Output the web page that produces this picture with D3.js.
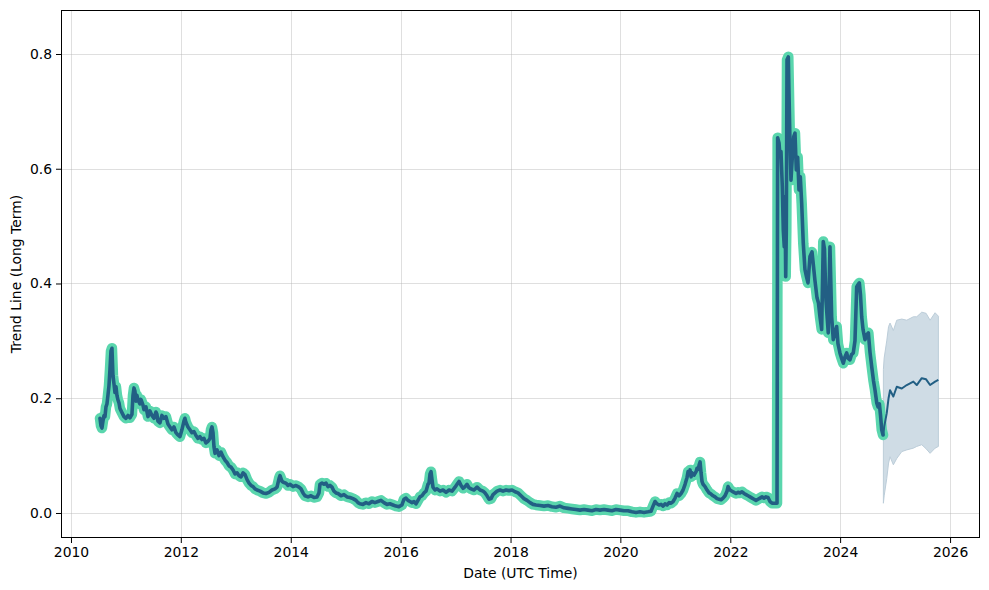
<!DOCTYPE html>
<html>
<head>
<meta charset="utf-8">
<script src="https://cdn.jsdelivr.net/npm/d3@7"></script>
<style>
  html, body { margin: 0; padding: 0; background: #ffffff; }
  svg { display: block; font-family: "DejaVu Sans", sans-serif; }
</style>
</head>
<body>
<svg id="chart" width="989" height="590"></svg>
<script>
// ---------- data (decimal years, values) ----------
const histYears = [
2010.528,2010.546,2010.564,2010.582,2010.601,2010.619,2010.637,2010.655,2010.673,2010.692,
2010.710,2010.728,2010.746,2010.764,2010.783,2010.801,2010.819,2010.837,2010.855,2010.874,
2010.892,2010.928,2010.965,2011.001,2011.038,2011.074,2011.110,2011.129,2011.147,2011.165,
2011.183,2011.201,2011.220,2011.256,2011.274,2011.311,2011.329,2011.365,2011.402,2011.438,
2011.474,2011.511,2011.547,2011.565,2011.584,2011.620,2011.656,2011.693,2011.729,2011.766,
2011.802,2011.838,2011.875,2011.911,2011.948,2011.984,2012.020,2012.057,2012.075,2012.093,
2012.130,2012.166,2012.202,2012.239,2012.275,2012.312,2012.348,2012.384,2012.421,2012.457,
2012.494,2012.530,2012.548,2012.566,2012.585,2012.603,2012.621,2012.658,2012.694,2012.730,
2012.767,2012.803,2012.840,2012.876,2012.912,2012.949,2012.985,2013.022,2013.058,2013.094,
2013.131,2013.167,2013.204,2013.240,2013.276,2013.313,2013.349,2013.386,2013.440,2013.495,
2013.549,2013.604,2013.659,2013.713,2013.750,2013.786,2013.804,2013.822,2013.841,2013.877,
2013.913,2013.950,2013.986,2014.041,2014.095,2014.150,2014.186,2014.223,2014.259,2014.314,
2014.368,2014.423,2014.478,2014.514,2014.532,2014.569,2014.605,2014.642,2014.678,2014.714,
2014.751,2014.787,2014.824,2014.860,2014.915,2014.969,2015.024,2015.078,2015.133,2015.188,
2015.224,2015.260,2015.315,2015.370,2015.424,2015.479,2015.533,2015.588,2015.643,2015.697,
2015.752,2015.806,2015.861,2015.916,2015.970,2016.025,2016.061,2016.098,2016.134,2016.170,
2016.207,2016.243,2016.280,2016.316,2016.352,2016.389,2016.425,2016.462,2016.498,2016.516,
2016.535,2016.553,2016.571,2016.589,2016.626,2016.662,2016.717,2016.771,2016.826,2016.880,
2016.935,2016.990,2017.026,2017.062,2017.099,2017.135,2017.172,2017.208,2017.244,2017.281,
2017.335,2017.390,2017.445,2017.499,2017.536,2017.572,2017.608,2017.645,2017.681,2017.718,
2017.754,2017.809,2017.863,2017.918,2017.972,2018.027,2018.082,2018.136,2018.191,2018.245,
2018.300,2018.355,2018.409,2018.464,2018.537,2018.610,2018.682,2018.755,2018.828,2018.901,
2018.974,2019.046,2019.119,2019.192,2019.265,2019.338,2019.410,2019.483,2019.556,2019.629,
2019.702,2019.774,2019.847,2019.920,2019.993,2020.066,2020.139,2020.211,2020.284,2020.357,
2020.430,2020.503,2020.557,2020.594,2020.630,2020.666,2020.703,2020.739,2020.776,2020.812,
2020.848,2020.885,2020.921,2020.958,2020.994,2021.030,2021.067,2021.103,2021.140,2021.176,
2021.212,2021.231,2021.249,2021.267,2021.285,2021.303,2021.340,2021.376,2021.394,2021.413,
2021.431,2021.449,2021.467,2021.485,2021.504,2021.540,2021.576,2021.613,2021.649,2021.686,
2021.722,2021.758,2021.795,2021.831,2021.868,2021.904,2021.940,2021.959,2021.995,2022.031,
2022.068,2022.104,2022.141,2022.177,2022.213,2022.250,2022.286,2022.323,2022.359,2022.396,
2022.432,2022.468,2022.505,2022.541,2022.578,2022.614,2022.650,2022.687,2022.723,2022.760,
2022.796,2022.832,2022.851,2022.862,2022.887,2022.905,2022.923,2022.947,2022.965,2022.983,
2022.996,2023.009,2023.020,2023.033,2023.056,2023.082,2023.105,2023.129,2023.155,2023.178,
2023.202,2023.227,2023.251,2023.275,2023.300,2023.329,2023.360,2023.387,2023.415,2023.451,
2023.488,2023.515,2023.542,2023.579,2023.606,2023.633,2023.664,2023.693,2023.715,2023.742,
2023.784,2023.815,2023.846,2023.875,2023.906,2023.937,2023.961,2023.997,2024.025,2024.058,
2024.088,2024.119,2024.143,2024.179,2024.207,2024.239,2024.270,2024.301,2024.325,2024.349,
2024.370,2024.392,2024.416,2024.452,2024.480,2024.513,2024.543,2024.574,2024.607,2024.634,
2024.665,2024.689,2024.713,2024.734,2024.756,2024.780
];
const histValues = [
0.165,0.152,0.148,0.160,0.170,0.168,0.185,0.190,0.205,0.222,
0.250,0.282,0.287,0.240,0.225,0.210,0.220,0.205,0.197,0.192,
0.182,0.175,0.168,0.165,0.170,0.166,0.172,0.205,0.218,0.212,
0.195,0.205,0.197,0.190,0.198,0.188,0.180,0.185,0.168,0.178,
0.170,0.165,0.176,0.172,0.160,0.157,0.170,0.165,0.168,0.155,
0.150,0.145,0.150,0.140,0.136,0.133,0.145,0.160,0.165,0.158,
0.150,0.145,0.140,0.142,0.135,0.130,0.133,0.128,0.130,0.122,
0.125,0.130,0.145,0.150,0.140,0.115,0.104,0.110,0.100,0.106,
0.098,0.092,0.088,0.082,0.080,0.075,0.068,0.070,0.065,0.063,
0.070,0.067,0.058,0.052,0.048,0.046,0.042,0.040,0.038,0.035,
0.034,0.036,0.040,0.042,0.045,0.060,0.065,0.060,0.055,0.053,
0.052,0.048,0.050,0.046,0.048,0.045,0.042,0.035,0.030,0.028,
0.030,0.027,0.028,0.035,0.050,0.052,0.050,0.052,0.046,0.048,
0.045,0.038,0.035,0.034,0.030,0.032,0.028,0.027,0.025,0.022,
0.018,0.016,0.015,0.018,0.016,0.020,0.018,0.020,0.022,0.018,
0.015,0.016,0.014,0.012,0.011,0.014,0.024,0.026,0.022,0.020,
0.018,0.020,0.016,0.022,0.028,0.030,0.035,0.038,0.050,0.052,
0.068,0.072,0.058,0.045,0.040,0.042,0.038,0.040,0.036,0.040,
0.038,0.045,0.050,0.055,0.048,0.043,0.046,0.050,0.044,0.042,
0.040,0.045,0.040,0.038,0.035,0.030,0.024,0.025,0.032,0.035,
0.038,0.040,0.038,0.040,0.039,0.040,0.037,0.035,0.030,0.025,
0.022,0.018,0.015,0.014,0.013,0.012,0.013,0.011,0.010,0.012,
0.009,0.008,0.007,0.006,0.005,0.006,0.005,0.004,0.006,0.005,
0.006,0.005,0.004,0.006,0.005,0.004,0.004,0.002,0.001,0.002,
0.001,0.002,0.003,0.012,0.020,0.016,0.014,0.015,0.012,0.016,
0.014,0.018,0.017,0.020,0.026,0.034,0.030,0.034,0.040,0.050,
0.062,0.072,0.068,0.075,0.063,0.070,0.066,0.072,0.078,0.076,
0.083,0.089,0.070,0.055,0.050,0.046,0.040,0.035,0.033,0.030,
0.028,0.025,0.024,0.023,0.026,0.030,0.038,0.046,0.040,0.038,
0.036,0.034,0.036,0.035,0.037,0.034,0.032,0.030,0.028,0.026,
0.024,0.022,0.024,0.026,0.028,0.026,0.028,0.027,0.020,0.017,
0.017,0.017,0.017,0.654,0.645,0.621,0.630,0.569,0.493,0.464,
0.551,0.412,0.493,0.790,0.795,0.668,0.580,0.620,0.656,0.662,
0.598,0.620,0.563,0.586,0.540,0.470,0.424,0.412,0.401,0.447,
0.455,0.430,0.405,0.375,0.366,0.342,0.320,0.473,0.460,0.371,
0.314,0.464,0.342,0.302,0.315,0.325,0.295,0.279,0.270,0.261,
0.272,0.279,0.270,0.267,0.276,0.279,0.300,0.394,0.398,0.401,
0.380,0.342,0.320,0.302,0.310,0.314,0.280,0.255,0.230,0.214,
0.192,0.185,0.190,0.170,0.145,0.136
];

const fcYears  = [2024.786,2024.800,2024.847,2024.880,2024.907,2024.967,2025.029,2025.120,2025.211,2025.331,2025.393,2025.484,2025.563,2025.636,2025.727,2025.787];
const fcMid    = [0.136,0.150,0.174,0.200,0.214,0.203,0.220,0.217,0.223,0.229,0.223,0.235,0.233,0.223,0.229,0.232];
const fcLower  = [0.017,0.030,0.060,0.087,0.098,0.084,0.095,0.107,0.110,0.113,0.116,0.119,0.112,0.104,0.113,0.116];
const fcUpper  = [0.250,0.270,0.300,0.325,0.331,0.318,0.336,0.338,0.336,0.342,0.342,0.350,0.348,0.336,0.349,0.343];

const xTickYears = [2010,2012,2014,2016,2018,2020,2022,2024,2026];
const yTicks = [0.0,0.2,0.4,0.6,0.8];
const xLabel = "Date (UTC Time)";
const yLabel = "Trend Line (Long Term)";

// ---------- helpers ----------
function decToDate(y) {
  const yr = Math.floor(y);
  const start = Date.UTC(yr, 0, 1), end = Date.UTC(yr + 1, 0, 1);
  return new Date(start + (y - yr) * (end - start));
}

// ---------- layout ----------
const svg = d3.select("#chart");
const L = 61, R = 980, T = 10, B = 538;

const x = d3.scaleUtc().domain([decToDate(2009.818), decToDate(2026.545)]).range([L, R]);
const y = d3.scaleLinear().domain([-0.0436, 0.8767]).range([B, T]);

// grid
const grid = svg.append("g");
xTickYears.forEach(t => {
  const px = Math.round(x(decToDate(t))) + 0.5;
  grid.append("line").attr("x1", px).attr("x2", px).attr("y1", T).attr("y2", B)
    .attr("stroke", "#b0b0b0").attr("stroke-opacity", 0.4).attr("stroke-width", 1);
});
yTicks.forEach(t => {
  const py = Math.round(y(t)) + 0.5;
  grid.append("line").attr("x1", L).attr("x2", R).attr("y1", py).attr("y2", py)
    .attr("stroke", "#b0b0b0").attr("stroke-opacity", 0.4).attr("stroke-width", 1);
});

svg.append("clipPath").attr("id", "plotclip")
  .append("rect").attr("x", L).attr("y", T).attr("width", R - L).attr("height", B - T);
const plot = svg.append("g").attr("clip-path", "url(#plotclip)");

// forecast band
const fc = fcYears.map((d, i) => ({ d: decToDate(d), lo: fcLower[i], hi: fcUpper[i], m: fcMid[i] }));
plot.append("path").datum(fc)
  .attr("d", d3.area().x(d => x(d.d)).y0(d => y(d.lo)).y1(d => y(d.hi)))
  .attr("fill", "#cfdce5").attr("stroke", "#bccdd9").attr("stroke-width", 1);

// historical line with glow
const hist = histYears.map((d, i) => ({ d: decToDate(d), v: histValues[i] }));
const line = d3.line().x(d => x(d.d)).y(d => y(d.v));
plot.append("path").datum(hist).attr("d", line)
  .attr("fill", "none").attr("stroke", "#5ad6ad").attr("stroke-width", 10.5)
  .attr("stroke-linejoin", "round").attr("stroke-linecap", "round");
plot.append("path").datum(hist).attr("d", line)
  .attr("fill", "none").attr("stroke", "#225f84").attr("stroke-width", 3.6)
  .attr("stroke-linejoin", "round").attr("stroke-linecap", "round");

// forecast line
plot.append("path").datum(fc)
  .attr("d", d3.line().x(d => x(d.d)).y(d => y(d.m)))
  .attr("fill", "none").attr("stroke", "#225f84").attr("stroke-width", 2)
  .attr("stroke-linejoin", "round");

// axes
const xAxis = d3.axisBottom(x).tickValues(xTickYears.map(decToDate))
  .tickFormat(d3.utcFormat("%Y")).tickSize(5).tickPadding(4);
const yAxis = d3.axisLeft(y).tickValues(yTicks).tickFormat(d3.format(".1f")).tickSize(5).tickPadding(4);

const gx = svg.append("g").attr("transform", `translate(0,${B})`).call(xAxis);
const gy = svg.append("g").attr("transform", `translate(${L},0)`).call(yAxis);
[gx, gy].forEach(g => {
  g.select(".domain").remove();
  g.selectAll("text").attr("font-family", "DejaVu Sans").attr("font-size", "13.9px").attr("fill", "#000");
  g.selectAll("line").attr("stroke", "#000").attr("stroke-width", 1);
});

// frame
svg.append("rect").attr("x", L + 0.5).attr("y", T + 0.5).attr("width", R - L - 1).attr("height", B - T - 1)
  .attr("fill", "none").attr("stroke", "#000").attr("stroke-width", 1);

// labels
svg.append("text").attr("x", (L + R) / 2).attr("y", 578).attr("text-anchor", "middle")
  .attr("font-size", "13.9px").attr("fill", "#000").text(xLabel);
svg.append("text").attr("transform", `translate(21,${(T + B) / 2}) rotate(-90)`)
  .attr("text-anchor", "middle").attr("font-size", "13.9px").attr("fill", "#000").text(yLabel);
</script>
</body>
</html>
